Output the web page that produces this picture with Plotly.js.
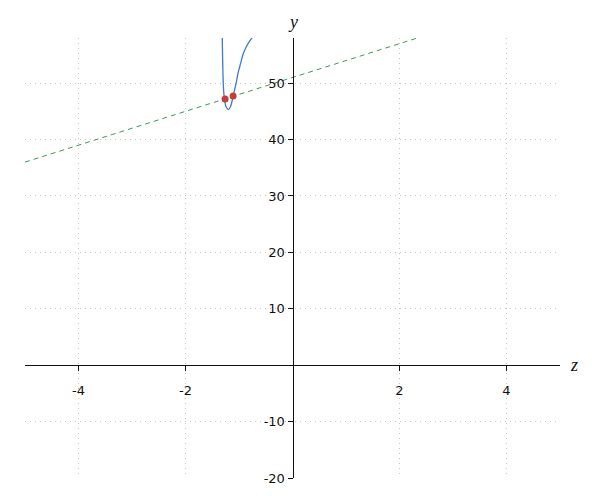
<!DOCTYPE html>
<html>
<head>
<meta charset="utf-8">
<script src="https://cdn.plot.ly/plotly-3.0.1.min.js"></script>
<style>html,body{margin:0;padding:0;background:#fff;}#chart{width:600px;height:500px;}</style>
</head>
<body>
<div id="chart"></div>
<script>
// Curve points
const curveX = [-1.318, -1.314, -1.306, -1.296, -1.285, -1.269, -1.241, -1.198, -1.157, -1.104, -1.054, -1.017, -0.970, -0.918, -0.860, -0.825, -0.775, -0.731];
const curveY = [59.0, 58.3, 54.3, 50.5, 48.4, 47.0, 45.8, 45.3, 45.9, 47.9, 50.0, 51.8, 53.5, 55.3, 56.5, 57.1, 57.8, 58.3];
// Dashed line endpoints
const lineX = [-5, 2.45];
const lineY = [36.0, 58.35];
// Marked points
const ptX = [-1.26, -1.11];
const ptY = [47.2, 47.7];
// Ticks
const xTickVals = [-4, -2, 2, 4];
const xTickText = ["-4", "-2", "2", "4"];
const yTickVals = [-20, -10, 10, 20, 30, 40, 50];
const yTickText = ["-20", "-10", "10", "20", "30", "40", "50"];

const traces = [
  {x: lineX, y: lineY, mode: 'lines', line: {color: '#3a9a5c', width: 1, dash: '5px,4px'}, hoverinfo: 'skip'},
  {x: curveX, y: curveY, mode: 'lines', line: {color: '#3b7bcb', width: 1.3, shape: 'spline'}, hoverinfo: 'skip'},
  {x: ptX, y: ptY, mode: 'markers', marker: {color: '#cc3b35', size: 7}, hoverinfo: 'skip'}
];

const xMin = -5, xMax = 5, yMin = -20, yMax = 58;
const layout = {
  width: 600, height: 500,
  margin: {l: 25, r: 40, t: 38, b: 22},
  showlegend: false,
  paper_bgcolor: '#fff', plot_bgcolor: '#fff',
  font: {family: 'DejaVu Sans', size: 13, color: '#111'},
  xaxis: {
    range: [xMin, xMax], anchor: 'free', position: (0 - yMin) / (yMax - yMin),
    tickmode: 'array', tickvals: xTickVals, ticktext: xTickText,
    showline: true, linecolor: '#111', linewidth: 1,
    ticks: 'outside', ticklen: 5, tickcolor: '#111', ticklabelstandoff: 8,
    showgrid: true, gridcolor: '#c4c4c4', griddash: '1px,4px', gridwidth: 1,
    zeroline: false, fixedrange: true
  },
  yaxis: {
    range: [yMin, yMax], anchor: 'free', position: (0 - xMin) / (xMax - xMin),
    tickmode: 'array', tickvals: yTickVals, ticktext: yTickText,
    showline: true, linecolor: '#111', linewidth: 1,
    ticks: 'outside', ticklen: 5, tickcolor: '#111',
    showgrid: true, gridcolor: '#c4c4c4', griddash: '1px,4px', gridwidth: 1,
    zeroline: false, fixedrange: true
  },
  annotations: [
    {text: 'y', xref: 'paper', yref: 'paper', x: 0.5, y: 1, xanchor: 'center', yanchor: 'bottom', yshift: 4, showarrow: false,
     font: {family: 'Liberation Serif', size: 18, color: '#111', style: 'italic'}},
    {text: 'z', xref: 'paper', yref: 'paper', x: 1, y: (0 - yMin) / (yMax - yMin), xanchor: 'left', yanchor: 'middle', xshift: 8, showarrow: false,
     font: {family: 'Liberation Serif', size: 18, color: '#111', style: 'italic'}}
  ]
};
Plotly.newPlot('chart', traces, layout, {staticPlot: true});
</script>
</body>
</html>
